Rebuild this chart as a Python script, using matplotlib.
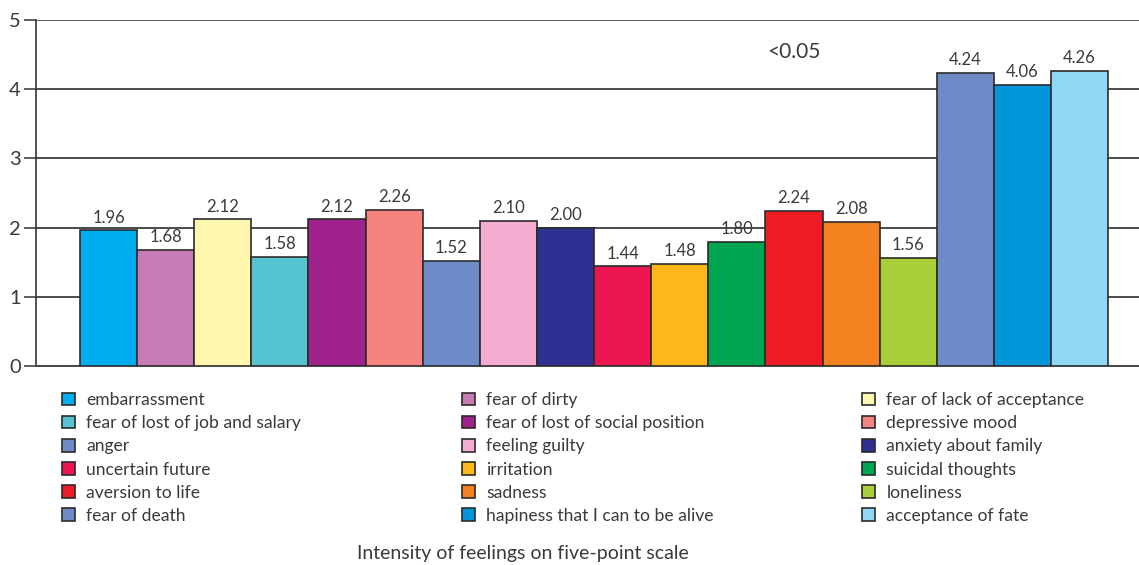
import numpy as np
import matplotlib.pyplot as plt
from matplotlib.patches import Patch

plt.rcParams['font.family'] = ['Lato', 'DejaVu Sans']

# Datos
categorias = ['embarrassment', 'fear of dirty', 'fear of lack of acceptance',
              'fear of lost of job and salary', 'fear of lost of social position',
              'depressive mood', 'anger', 'feeling guilty', 'anxiety about family',
              'uncertain future', 'irritation', 'suicidal thoughts',
              'aversion to life', 'sadness', 'loneliness', 'fear of death',
              'hapiness that I can to be alive', 'acceptance of fate']
valores = [1.96, 1.68, 2.12, 1.58, 2.12, 2.26, 1.52, 2.10, 2.00,
           1.44, 1.48, 1.80, 2.24, 2.08, 1.56, 4.24, 4.06, 4.26]
colores = ['#00AEEF', '#C77CB5', '#FFF7AE', '#55C4D0', '#A0228C', '#F4847D',
           '#6D8BC7', '#F4ACD0', '#2E3192', '#ED1651', '#FDB71A', '#00A551',
           '#ED1C24', '#F58220', '#A8CF3A', '#6D8BC7', '#0096D9', '#8ED8F6']
yticks = [0, 1, 2, 3, 4, 5]

texto_color = '#3a3a3a'

fig = plt.figure(figsize=(11.39, 5.65), dpi=100)
ax = fig.add_axes([0.0316, 0.352, 0.9684, 0.6126])

x = np.arange(len(valores))
ax.bar(x, valores, width=1.0, color=colores, edgecolor='#2b2b2b', linewidth=1.2, zorder=3)

for xi, v in zip(x, valores):
    ax.text(xi, v + 0.07, f'{v:.2f}', ha='center', va='bottom',
            fontsize=12, color=texto_color, zorder=4)

ax.text(12.0, 4.54, '<0.05', ha='center', va='center', fontsize=15, color=texto_color)

# Ejes y rejilla
ax.set_xlim(-1.27, 18.04)
ax.set_ylim(0, 5)
ax.set_yticks(yticks)
ax.set_yticklabels([str(t) for t in yticks], fontsize=14.5, color=texto_color)
ax.set_xticks([])
for t in yticks[1:-1]:
    ax.axhline(t, color='#1a1a1a', linewidth=1.1, zorder=1)
ax.axhline(5, color='#555555', linewidth=1.3, zorder=1)
for s in ['top', 'right']:
    ax.spines[s].set_visible(False)
ax.spines['left'].set_color('#333333')
ax.spines['bottom'].set_color('#444444')
ax.spines['left'].set_linewidth(1.2)
ax.spines['bottom'].set_linewidth(1.4)
ax.tick_params(axis='y', length=9, width=1.1, color='#333333', pad=2)

# Leyenda: tres columnas, orden por filas
handles = [Patch(facecolor=c, edgecolor='#2b2b2b', linewidth=1.2, label=l)
           for c, l in zip(colores, categorias)]
for col, x0 in enumerate([62, 462, 862]):
    idx = list(range(col, len(categorias), 3))
    leg = fig.legend([handles[i] for i in idx], [categorias[i] for i in idx],
                     loc='upper left', bbox_to_anchor=(x0 / 1139, 1 - 392 / 565),
                     frameon=False, fontsize=12.6, handlelength=0.74, handleheight=0.74,
                     handletextpad=0.65, labelspacing=0.41, borderpad=0, borderaxespad=0)
    for t in leg.get_texts():
        t.set_color(texto_color)

fig.text(523 / 1139, 1 - 553 / 565, 'Intensity of feelings on five-point scale',
         ha='center', va='center', fontsize=14, color=texto_color)

plt.savefig('out.png', dpi=100)
